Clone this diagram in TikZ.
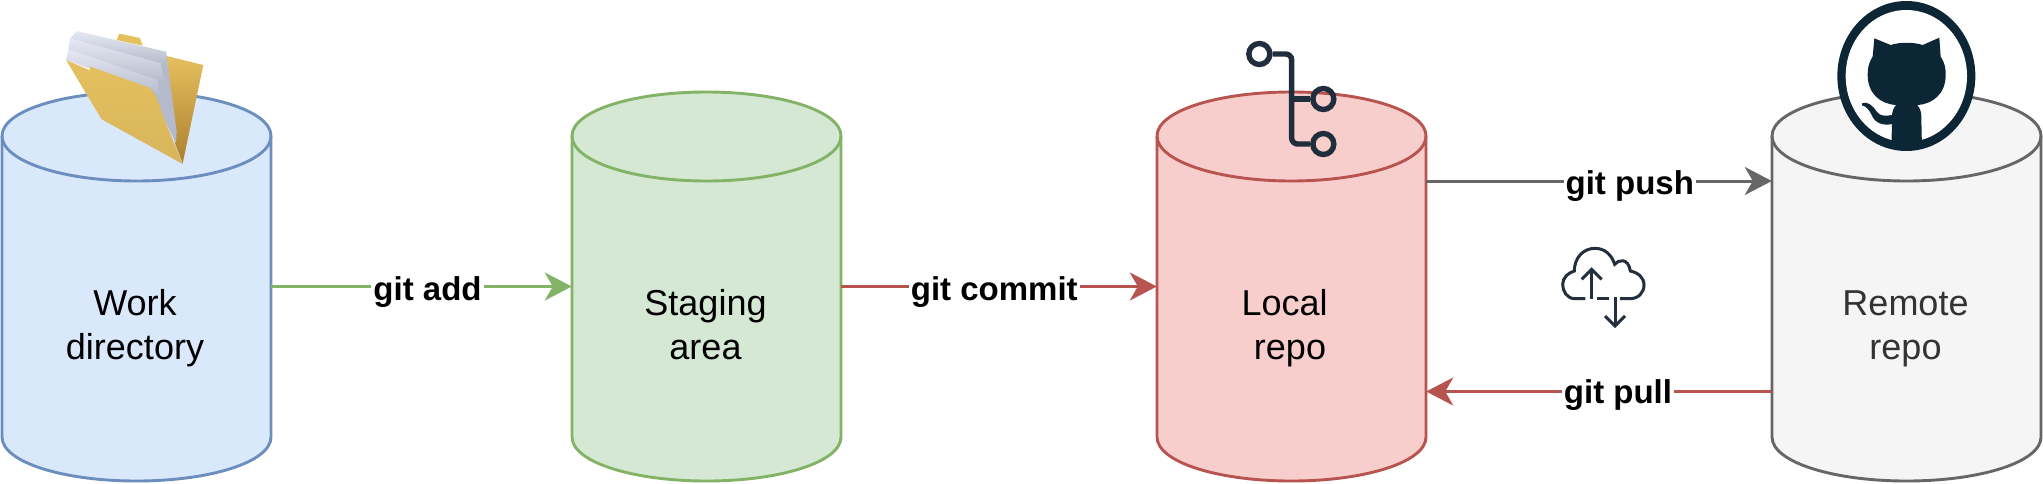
\documentclass[tikz,border=0pt]{standalone}
\usepackage{fontspec}
\setmainfont{Liberation Sans}
\usetikzlibrary{arrows.meta}
\definecolor{bluef}{HTML}{DAE8FC}\definecolor{blued}{HTML}{6C8EBF}
\definecolor{greenf}{HTML}{D5E8D4}\definecolor{greend}{HTML}{82B366}
\definecolor{redf}{HTML}{F8CECC}\definecolor{redd}{HTML}{B85450}
\definecolor{grayf}{HTML}{F5F5F5}\definecolor{grayd}{HTML}{666666}
\definecolor{gitdark}{HTML}{1F2D3D}\definecolor{catdark}{HTML}{0D2636}
\definecolor{clouddark}{HTML}{232F3E}
\definecolor{foldA}{HTML}{E5C05F}\definecolor{foldB}{HTML}{DDBB62}\definecolor{foldC}{HTML}{AD7F2E}
\definecolor{pageA}{HTML}{E6E9F4}\definecolor{pageB}{HTML}{B4BACB}
\newcommand{\cyl}[3]{% cx, fill, draw
  \filldraw[fill=#2,draw=#3,line width=2.9pt]
   (#1-134.5,136) .. controls (#1-134.5,111) and (#1-74,92) .. (#1,92)
   .. controls (#1+74,92) and (#1+134.5,111) .. (#1+134.5,136)
   -- (#1+134.5,437) .. controls (#1+134.5,462) and (#1+74,481) .. (#1,481)
   .. controls (#1-74,481) and (#1-134.5,462) .. (#1-134.5,437) -- cycle;
  \draw[draw=#3,line width=2.9pt]
   (#1-134.5,136) .. controls (#1-134.5,161) and (#1-74,181) .. (#1,181)
   .. controls (#1+74,181) and (#1+134.5,161) .. (#1+134.5,136);
}
\tikzset{
  store/.style={minimum width=269pt,minimum height=389pt,inner sep=0pt},
  storetext/.style={inner sep=0pt,align=center,font=\fontsize{36}{44.5}\selectfont},
  flow/.style={line width=3pt,-{Stealth[length=27pt,width=28pt,inset=8pt]}},
  cmd/.style={fill=white,inner xsep=2pt,inner ysep=1pt,font=\fontsize{33}{40}\selectfont\bfseries,text=black},
  band/.style={shading angle=-15,top color=pageA,bottom color=pageB}
}
\begin{document}
\begin{tikzpicture}[x=1pt,y=-1pt]
\useasboundingbox (0,0) rectangle (2043,483);
\cyl{136.5}{bluef}{blued}
\cyl{706.5}{greenf}{greend}
\cyl{1291.5}{redf}{redd}
\cyl{1906.5}{grayf}{grayd}
\node[store] (work) at (136.5,286.5) {};
\node[store] (staging) at (706.5,286.5) {};
\node[store] (local) at (1291.5,286.5) {};
\node[store] (remote) at (1906.5,286.5) {};
\node[storetext] (worktext) at ([xshift=-1.5pt,yshift=-42pt]work.center) {\strut Work\\directory\strut};
\node[storetext] (stagingtext) at ([xshift=-1pt,yshift=-42pt]staging.center) {\strut Staging\\area\strut};
\node[storetext] (localtext) at ([xshift=-1.5pt,yshift=-42pt]local.center) {\strut Local\hspace*{.3em}\\repo\strut};
\node[storetext,text=black!80] (remotetext) at ([xshift=-1pt,yshift=-42pt]remote.center) {\strut Remote\\repo\strut};
\draw[flow,greend] (work) -- node[cmd,pos=.52,yshift=-5.5pt] {git add} (staging);
\draw[flow,redd] (staging) -- node[cmd,pos=.485,yshift=-5.5pt] {git commit} (local);
\draw[flow,grayd] ([yshift=105.5pt]local.east) -- node[cmd,pos=.589,yshift=-5pt] {git push} ([yshift=105.5pt]remote.west);
\draw[flow,redd] ([yshift=-105pt]remote.west) -- node[cmd,pos=.445,yshift=-3.5pt] {git pull} ([yshift=-105pt]local.east);
% folder icon
\begin{scope}[x=.33333pt,y=-.33333pt]
 \fill[foldA] (350,120) -- (358,101) -- (420,114) -- (428,137) -- cycle;
 \shade[top color=foldA,bottom color=foldC] (500,168) -- (610,195) -- (548,490) -- (525,430) -- cycle;
 \fill[pageB] (498,155) -- (530,395) -- (528,430) -- (445,262) -- (472,240) -- (482,190) -- cycle;
 \shade[band] (230,93) -- (498,155) -- (500,195) -- (210,116) -- cycle;
 \shade[band] (210,116) -- (482,190) -- (495,250) -- (205,148) -- cycle;
 \shade[band] (205,148) -- (472,240) -- (480,290) -- (445,262) -- (268,205) -- (198,180) -- cycle;
 \shade[top color=foldA,bottom color=foldB!90!foldC] (198,180) -- (268,210) -- (272,200) -- (445,262) .. controls (470,280) and (480,320) .. (490,350) -- (548,492) -- (305,358) -- cycle;
\end{scope}
% git branch icon
\begin{scope}[shift={(1200,0)},x=.33333pt,y=-.33333pt,draw=gitdark,line width=5.4pt]
 \node[circle,draw=gitdark,line width=5.4pt,minimum size=21pt,inner sep=0pt] (b1) at (178,162) {};
 \node[circle,draw=gitdark,line width=5.4pt,minimum size=21pt,inner sep=0pt] (b2) at (370,297) {};
 \node[circle,draw=gitdark,line width=5.4pt,minimum size=21pt,inner sep=0pt] (b3) at (370,432) {};
 \draw[rounded corners=6pt] (b1.east) -- (275,162) -- (275,432) -- (b3.west);
 \draw (275,297) -- (b2.west);
\end{scope}
% github icon
\begin{scope}[shift={(1780,0)},x=.33333pt,y=-.33333pt]
 \fill[catdark] (379,228) ellipse [x radius=207,y radius=225];
 \fill[white] (379,228) ellipse [x radius=182,y radius=198];
 \fill[catdark] (283,115) -- (332,135) .. controls (360,126) and (400,126) .. (428,135) -- (478,113) -- (482,170)
   .. controls (495,190) and (497,205) .. (497,225) .. controls (497,280) and (460,312) .. (412,315)
   .. controls (420,325) and (424,335) .. (424,350) -- (425,412) -- (430,440) -- (335,440) -- (335,412) -- (336,350)
   .. controls (336,335) and (340,325) .. (348,315) .. controls (300,312) and (263,280) .. (263,225)
   .. controls (263,205) and (265,190) .. (278,170) -- cycle;
 \fill[catdark] (246,310) .. controls (262,303) and (277,315) .. (290,335)
   .. controls (300,350) and (320,348) .. (336,345) -- (336,372)
   .. controls (310,378) and (285,370) .. (275,345) .. controls (268,330) and (258,318) .. (246,316) -- cycle;
\end{scope}
% cloud icon
\begin{scope}[shift={(1520,231)},x=.33333pt,y=-.33333pt,draw=clouddark,line width=3pt]
 \draw (196,203) -- (165,203) .. controls (140,203) and (128,180) .. (128,160)
   .. controls (128,140) and (145,125) .. (163,120) .. controls (163,80) and (190,52) .. (225,52)
   .. controls (255,52) and (275,72) .. (284,100) .. controls (295,85) and (325,80) .. (331,120)
   .. controls (355,125) and (372,140) .. (372,162) .. controls (372,185) and (355,203) .. (330,203) -- (300,203);
 \draw (232,203) -- (268,203);
 \draw (215,205) -- (215,115);
 \draw (185,145) -- (215,115) -- (245,145);
 \draw (285,197) -- (285,285);
 \draw (255,255) -- (285,285) -- (315,255);
\end{scope}
\end{tikzpicture}
\end{document}
